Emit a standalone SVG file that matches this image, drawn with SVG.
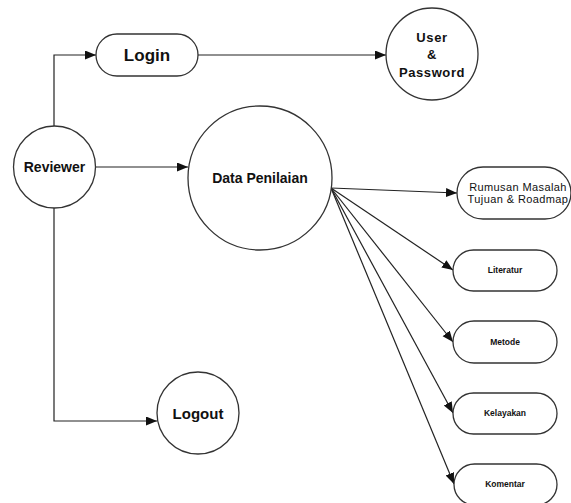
<svg xmlns="http://www.w3.org/2000/svg" width="571" height="503" viewBox="0 0 571 503">
<style>
.shape{fill:#fff;stroke:#333;stroke-width:1.3}
.conn{fill:none;stroke:#222;stroke-width:1.2}
text{font-family:"Liberation Sans",Arial,sans-serif;fill:#111;text-anchor:middle}
.b{font-weight:bold}
</style>
<defs>
<marker id="arr" markerUnits="userSpaceOnUse" markerWidth="12" markerHeight="10" refX="11" refY="4.5" orient="auto">
<path d="M0,0 L11,4.5 L0,9 Z" fill="#111"/>
</marker>
</defs>
<rect width="571" height="503" fill="#fff"/>
<g id="connectors" class="conn">
<path d="M54,126 V55 H96" marker-end="url(#arr)"/>
<path d="M198,55 H386" marker-end="url(#arr)"/>
<path d="M96,167 H188" marker-end="url(#arr)"/>
<path d="M54,208 V421 H157" marker-end="url(#arr)"/>
<path d="M331,188 L457,193" marker-end="url(#arr)"/>
<path d="M331,188 L453,270" marker-end="url(#arr)"/>
<path d="M331,188 L453,342" marker-end="url(#arr)"/>
<path d="M331,188 L453,413" marker-end="url(#arr)"/>
<path d="M331,188 L454,484" marker-end="url(#arr)"/>
</g>
<g id="reviewer">
<circle class="shape" cx="54.5" cy="167" r="41"/>
<text class="b" x="54.5" y="172" font-size="14">Reviewer</text>
</g>
<g id="login">
<rect class="shape" x="96" y="34" width="102" height="42" rx="21"/>
<text class="b" x="147" y="61" font-size="17">Login</text>
</g>
<g id="user-password">
<circle class="shape" cx="432" cy="54" r="46"/>
<text class="b" font-size="13" letter-spacing="0.6"><tspan x="432" y="42">User</tspan><tspan x="432" y="59">&amp;</tspan><tspan x="432" y="77">Password</tspan></text>
</g>
<g id="data-penilaian">
<circle class="shape" cx="260" cy="178" r="72"/>
<text class="b" x="260" y="183" font-size="14">Data Penilaian</text>
</g>
<g id="rumusan">
<rect class="shape" x="457" y="167" width="114" height="52" rx="26"/>
<text font-size="11" letter-spacing="0.4"><tspan x="518" y="191">Rumusan Masalah</tspan><tspan x="518" y="203">Tujuan &amp; Roadmap</tspan></text>
</g>
<g id="literatur">
<rect class="shape" x="453" y="250" width="104" height="41" rx="20.5"/>
<text class="b" x="505" y="273" font-size="8.5">Literatur</text>
</g>
<g id="metode">
<rect class="shape" x="453" y="321" width="104" height="42" rx="21"/>
<text class="b" x="505" y="344.5" font-size="8.5">Metode</text>
</g>
<g id="kelayakan">
<rect class="shape" x="453" y="393" width="104" height="41" rx="20.5"/>
<text class="b" x="505" y="416" font-size="8.5">Kelayakan</text>
</g>
<g id="komentar">
<rect class="shape" x="454" y="464" width="103" height="41" rx="20.5"/>
<text class="b" x="505" y="487" font-size="8.5">Komentar</text>
</g>
<g id="logout">
<circle class="shape" cx="198" cy="413" r="41"/>
<text class="b" x="198" y="418.5" font-size="15">Logout</text>
</g>
</svg>
